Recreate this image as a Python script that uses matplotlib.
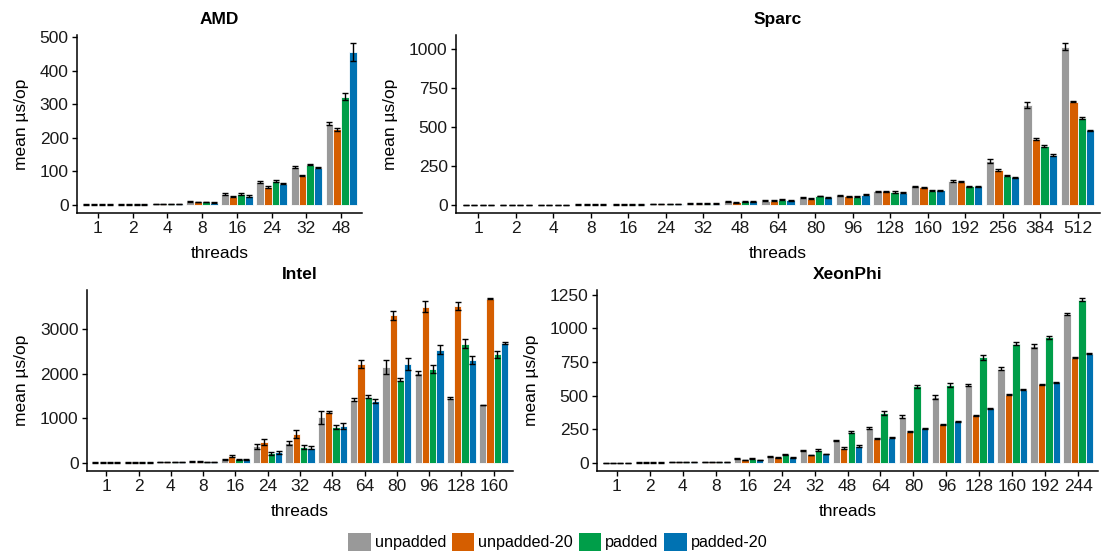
import matplotlib
matplotlib.use("Agg")
import matplotlib.pyplot as plt
from matplotlib.patches import Patch
import numpy as np

plt.rcParams['font.family'] = ['Liberation Sans', 'DejaVu Sans']

series = ["unpadded", "unpadded-20", "padded", "padded-20"]
colors = ["#999999", "#D55E00", "#009E49", "#0072B2"]

# AMD
amd_threads = ["1", "2", "4", "8", "16", "24", "32", "48"]
amd_unpadded = [1, 2, 3, 10, 33, 68, 112, 242]
amd_unpadded20 = [1, 2, 3, 9, 25, 53, 87, 225]
amd_padded = [1, 2, 3, 9, 33, 71, 120, 322]
amd_padded20 = [1, 2, 3, 7, 27, 63, 111, 455]
amd_err_unpadded = [1, 1, 1, 1, 2, 2, 3, 5]
amd_err_unpadded20 = [1, 1, 1, 1, 1, 2, 2, 4]
amd_err_padded = [1, 1, 1, 1, 2, 2, 2, 10]
amd_err_padded20 = [1, 1, 1, 1, 2, 2, 2, 27]

# Sparc
sparc_threads = ["1", "2", "4", "8", "16", "24", "32", "48", "64", "80", "96",
                 "128", "160", "192", "256", "384", "512"]
sparc_unpadded = [1, 1, 1, 2, 3, 6, 9, 22, 28, 45, 62, 88, 120, 155, 280, 640, 1015]
sparc_unpadded20 = [1, 1, 1, 2, 3, 6, 8, 18, 28, 40, 55, 87, 112, 150, 225, 425, 662]
sparc_padded = [1, 1, 1, 2, 3, 6, 9, 24, 33, 57, 52, 82, 90, 120, 188, 378, 555]
sparc_padded20 = [1, 1, 1, 2, 3, 6, 8, 22, 30, 50, 65, 78, 93, 118, 178, 320, 478]
sparc_err_unpadded = [1, 1, 1, 1, 1, 1, 2, 3, 3, 3, 4, 4, 4, 5, 12, 20, 22]
sparc_err_unpadded20 = [1, 1, 1, 1, 1, 1, 2, 3, 3, 3, 3, 4, 4, 5, 5, 6, 5]
sparc_err_padded = [1, 1, 1, 1, 1, 1, 2, 3, 3, 3, 3, 4, 4, 4, 4, 5, 6]
sparc_err_padded20 = [1, 1, 1, 1, 1, 1, 2, 3, 3, 3, 3, 4, 4, 4, 4, 4, 5]

# Intel
intel_threads = ["1", "2", "4", "8", "16", "24", "32", "48", "64", "80", "96", "128", "160"]
intel_unpadded = [5, 8, 12, 25, 70, 370, 445, 1020, 1420, 2150, 2020, 1450, 1300]
intel_unpadded20 = [5, 8, 12, 28, 160, 470, 650, 1140, 2220, 3320, 3510, 3520, 3690]
intel_padded = [5, 8, 12, 20, 80, 210, 350, 810, 1490, 1870, 2110, 2680, 2440]
intel_padded20 = [5, 8, 12, 20, 80, 235, 340, 830, 1390, 2220, 2540, 2310, 2690]
intel_err_unpadded = [2, 2, 3, 5, 15, 50, 40, 150, 30, 150, 50, 20, 10]
intel_err_unpadded20 = [2, 2, 3, 5, 20, 60, 90, 20, 90, 100, 120, 90, 10]
intel_err_padded = [2, 2, 3, 5, 10, 30, 40, 50, 40, 30, 90, 110, 80]
intel_err_padded20 = [2, 2, 3, 5, 10, 30, 40, 60, 40, 140, 100, 90, 15]

# XeonPhi
xeon_threads = ["1", "2", "4", "8", "16", "24", "32", "48", "64", "80", "96",
                "128", "160", "192", "244"]
xeon_unpadded = [1, 2, 4, 8, 32, 47, 88, 165, 258, 342, 487, 578, 700, 868, 1108]
xeon_unpadded20 = [1, 2, 4, 8, 22, 40, 58, 110, 178, 232, 287, 355, 505, 585, 783]
xeon_padded = [1, 2, 4, 8, 30, 62, 95, 232, 370, 568, 580, 785, 885, 932, 1212]
xeon_padded20 = [1, 2, 4, 8, 22, 42, 65, 125, 185, 255, 308, 405, 545, 600, 810]
xeon_err_unpadded = [1, 1, 1, 1, 3, 3, 4, 6, 8, 10, 15, 10, 10, 12, 8]
xeon_err_unpadded20 = [1, 1, 1, 1, 2, 3, 3, 4, 4, 4, 4, 4, 4, 4, 4]
xeon_err_padded = [1, 1, 1, 1, 3, 3, 4, 8, 12, 12, 14, 18, 12, 14, 12]
xeon_err_padded20 = [1, 1, 1, 1, 2, 3, 3, 4, 4, 4, 4, 4, 4, 4, 4]

FS = 12.5


def draw_panel(ax, title, threads, values, errors):
    n = len(threads)
    x = np.arange(n)
    step = 0.9 / len(values)
    top = 0
    for i, (vals, errs) in enumerate(zip(values, errors)):
        pos = x - 0.45 + step * (i + 0.5)
        ax.bar(pos, vals, width=step, color=colors[i], edgecolor="white",
               linewidth=0.6, zorder=2)
        ax.errorbar(pos, vals, yerr=errs, fmt="none", ecolor="black",
                    elinewidth=1.0, capsize=2.2, capthick=1.0, zorder=3)
        top = max(top, max(np.array(vals) + np.array(errs)))
    pad = top * 0.05
    ax.set_ylim(-pad, top + pad)
    ax.set_xlim(-0.6, n - 1 + 0.6)
    ax.set_xticks(x)
    ax.set_xticklabels(threads)
    ax.set_title(title, fontsize=FS, fontweight="bold", pad=8)
    ax.set_xlabel("threads", fontsize=FS, labelpad=7)
    ax.set_ylabel("mean µs/op", fontsize=FS, labelpad=8)
    for s in ["top", "right"]:
        ax.spines[s].set_visible(False)
    for s in ["left", "bottom"]:
        ax.spines[s].set_linewidth(1.1)
    ax.tick_params(axis="both", labelsize=FS, length=3.5, width=1.0,
                   colors="black", labelcolor="#1a1a1a", pad=2.5)


fig = plt.figure(figsize=(11.05, 5.56), dpi=100)
W, H = 1105, 556


def panel(left, right, top, bottom):
    return fig.add_axes([left / W, 1 - bottom / H, (right - left) / W, (bottom - top) / H])


ax_amd = panel(77, 362, 35, 213)
ax_sparc = panel(456, 1100, 35, 213)
ax_intel = panel(87, 513, 290, 471)
ax_xeon = panel(597, 1098, 290, 471)

draw_panel(ax_amd, "AMD", amd_threads,
           [amd_unpadded, amd_unpadded20, amd_padded, amd_padded20],
           [amd_err_unpadded, amd_err_unpadded20, amd_err_padded, amd_err_padded20])
ax_amd.set_yticks([0, 100, 200, 300, 400, 500])

draw_panel(ax_sparc, "Sparc", sparc_threads,
           [sparc_unpadded, sparc_unpadded20, sparc_padded, sparc_padded20],
           [sparc_err_unpadded, sparc_err_unpadded20, sparc_err_padded, sparc_err_padded20])
ax_sparc.set_yticks([0, 250, 500, 750, 1000])

draw_panel(ax_intel, "Intel", intel_threads,
           [intel_unpadded, intel_unpadded20, intel_padded, intel_padded20],
           [intel_err_unpadded, intel_err_unpadded20, intel_err_padded, intel_err_padded20])
ax_intel.set_yticks([0, 1000, 2000, 3000])

draw_panel(ax_xeon, "XeonPhi", xeon_threads,
           [xeon_unpadded, xeon_unpadded20, xeon_padded, xeon_padded20],
           [xeon_err_unpadded, xeon_err_unpadded20, xeon_err_padded, xeon_err_padded20])
ax_xeon.set_yticks([0, 250, 500, 750, 1000, 1250])

handles = [Patch(facecolor=c, edgecolor="none", label=s) for c, s in zip(colors, series)]
fig.legend(handles=handles, loc="center", bbox_to_anchor=(558 / W, 1 - 542 / H),
           ncol=4, frameon=False, fontsize=11.6, handlelength=1.4, handleheight=1.4,
           handletextpad=0.25, columnspacing=0.35, borderaxespad=0)

fig.savefig("out.png", dpi=100)
